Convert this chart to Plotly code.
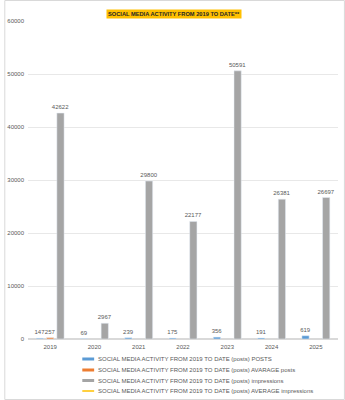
import plotly.graph_objects as go

years = ["2019", "2020", "2021", "2022", "2023", "2024", "2025"]
posts = [147, 69, 239, 175, 356, 191, 619]
avg_posts = [257, None, None, None, None, None, None]
impressions = [42622, 2967, 29800, 22177, 50591, 26381, 26697]
avg_impressions = [None, None, None, None, None, None, None]

series_names = [
    "SOCIAL MEDIA ACTIVITY FROM 2019 TO DATE (posts) POSTS",
    "SOCIAL MEDIA ACTIVITY FROM 2019 TO DATE (posts) AVARAGE posts",
    "SOCIAL MEDIA ACTIVITY FROM 2019 TO DATE (posts) impressions",
    "SOCIAL MEDIA ACTIVITY FROM 2019 TO DATE (posts) AVERAGE impressions",
]
colors = ["#5B9BD5", "#ED7D31", "#A5A5A5", "#FFC000"]
title = "SOCIAL MEDIA ACTIVITY FROM 2019 TO DATE**"

FONT = "Liberation Sans"
W, H = 345, 400
L, R, T, B = 24, 7, 21, 61
PW, PH = W - L - R, H - T - B

fig = go.Figure()
for name, vals, col in zip(series_names[:3], [posts, avg_posts, impressions], colors[:3]):
    fig.add_trace(go.Bar(
        x=years, y=vals, name=name, marker_color=col,
        text=[("" if v is None else str(v)) for v in vals],
        textposition="outside", cliponaxis=False, constraintext="none",
        textfont=dict(size=6, color="#595959", family=FONT),
        showlegend=False,
    ))
fig.add_trace(go.Scatter(x=years, y=avg_impressions, name=series_names[3],
                         mode="lines", line=dict(color=colors[3], width=1.5),
                         showlegend=False))

def px(x):
    return (x - L) / PW

def py(y):
    return (H - B - y) / PH

shapes = [dict(type="rect", xref="paper", yref="paper",
               x0=px(0.5), x1=px(W - 0.5), y0=py(H - 0.5), y1=py(0.5),
               line=dict(color="#D9D9D9", width=1), fillcolor="rgba(0,0,0,0)", layer="below")]
annotations = [dict(text="<b>" + title + "</b>", xref="paper", yref="paper",
                    x=px(172), y=py(9), showarrow=False, bgcolor="#FFC000",
                    font=dict(size=5.7, color="#262626", family=FONT), borderpad=1)]
legend_y = [359, 370, 380.5, 391]
for i, (name, col) in enumerate(zip(series_names, colors)):
    yy = legend_y[i]
    shapes.append(dict(type="line", xref="paper", yref="paper",
                       x0=px(79), x1=px(91), y0=py(yy), y1=py(yy),
                       line=dict(color=col, width=3 if i < 3 else 1.5)))
    annotations.append(dict(text=name, xref="paper", yref="paper", x=px(93), y=py(yy),
                            xanchor="left", yanchor="middle", showarrow=False,
                            font=dict(size=6, color="#595959", family=FONT)))

fig.update_layout(
    width=W, height=H, margin=dict(l=L, r=R, t=T, b=B),
    paper_bgcolor="white", plot_bgcolor="white",
    barmode="group", bargap=0.3, bargroupgap=0.3,
    shapes=shapes, annotations=annotations, showlegend=False,
    font=dict(family=FONT, color="#595959", size=6),
    xaxis=dict(showgrid=False, showline=False, ticks="", tickfont=dict(size=6, color="#595959"),
               fixedrange=True, ticklabelstandoff=3),
    yaxis=dict(range=[0, 60000], dtick=10000, tickformat="d", showgrid=True,
               gridcolor="#E8E8E8", gridwidth=1,
               zeroline=True, zerolinecolor="#D9D9D9", showline=False,
               tickfont=dict(size=6, color="#595959"), ticks="", ticklabelstandoff=3),
)
fig.write_html("out.html")
